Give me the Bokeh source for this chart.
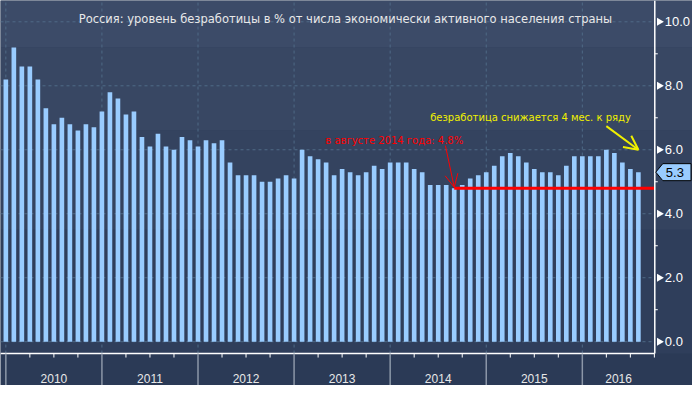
import math
from bokeh.plotting import figure
from bokeh.models import Range1d, Label, Arrow, OpenHead
from bokeh.core.properties import value
from bokeh.embed import file_html
from bokeh.resources import INLINE

# Monthly unemployment, Dec 2009 .. Jul 2016 (bars plotted at month end; 0 = Dec 2009)
values = [8.2, 9.2, 8.6, 8.6, 8.2, 7.3, 6.8, 7.0, 6.8, 6.6, 6.8, 6.7,
          7.2, 7.8, 7.6, 7.1, 7.2, 6.4, 6.1, 6.5, 6.1, 6.0, 6.4, 6.3,
          6.1, 6.3, 6.2, 6.3, 5.6, 5.2, 5.2, 5.2, 5.0, 5.0, 5.1, 5.2,
          5.1, 6.0, 5.8, 5.7, 5.6, 5.2, 5.4, 5.3, 5.2, 5.3, 5.5, 5.4,
          5.6, 5.6, 5.6, 5.4, 5.3, 4.9, 4.9, 4.9, 4.8, 4.9, 5.1, 5.2,
          5.3, 5.5, 5.8, 5.9, 5.8, 5.6, 5.4, 5.3, 5.3, 5.2, 5.5, 5.8,
          5.8, 5.8, 5.8, 6.0, 5.9, 5.6, 5.4, 5.3]
months = list(range(len(values)))
year_labels = ["2010", "2011", "2012", "2013", "2014", "2015", "2016"]
year_starts = [0, 12, 24, 36, 48, 60, 72]
quarter_ticks = [m for m in range(0, 82, 3) if m % 12 != 0]
y_ticks = [0, 2, 4, 6, 8, 10]
y_minor = [1, 3, 5, 7, 9]
title_text = "Россия: уровень безработицы в % от числа экономически активного населения страны"
note_low = "в августе 2014 года: 4.8%"
note_trend = "безработица снижается 4 мес. к ряду"

# geometry (data units; frame covers the whole canvas)
PXX, PXY = 8.007, 31.99          # pixels per month / per percentage point
X0, XA, X_END = -0.667, 81.05, 85.76
Y0, Y_AX, Y1 = -1.369, -0.37, 10.666


def dx(px):
    return px / PXX


def dy(px):
    return px / PXY


BAR = "#99ccff"
GRID = "#4f6a86"
WHITE = "#ffffff"
TXT = "#e8e8e8"

p = figure(width=692, height=385, x_range=Range1d(X0, X_END), y_range=Range1d(Y0, Y1),
           output_backend="svg", toolbar_location=None, x_axis_location=None,
           y_axis_location=None, min_border=0,
           background_fill_color="#2b3a56", border_fill_color="#2b3a56")
p.outline_line_color = None
p.grid.visible = False

# background bands (stepped gradient) above the x axis
band_bottom = [Y_AX, 3.5, 6.6, 9.2]
band_top = [3.5, 6.6, 9.2, Y1]
band_col = ["#2f3e5b", "#34435f", "#384763", "#3c4b68"]
p.quad(left=X0, right=X_END, bottom=band_bottom, top=band_top,
       fill_color=band_col, line_color=None)

# dashed grid
p.segment(x0=year_starts, y0=Y_AX, x1=year_starts, y1=Y1,
          line_color=GRID, line_dash="3 3", line_width=1)
p.segment(x0=X0, y0=y_ticks, x1=XA, y1=y_ticks,
          line_color=GRID, line_dash="3 3", line_width=1)

# bars
p.vbar(x=months, top=values, bottom=0, width=0.58, fill_color=BAR, line_color=None)

# low point line
low_val = min(values)
low_idx = values.index(low_val)
p.segment(x0=[low_idx], y0=[low_val], x1=[XA], y1=[low_val], line_color="#ff0000", line_width=3)

# arrows
p.add_layout(Arrow(end=OpenHead(size=13, line_color="#ff0000", line_width=1),
                   x_start=54.9, y_start=6.13, x_end=low_idx, y_end=low_val + 0.03,
                   line_color="#ff0000", line_width=1))
p.add_layout(Arrow(end=OpenHead(size=14, line_color="#f0f000", line_width=2),
                   x_start=75.0, y_start=6.74, x_end=79.0, y_end=6.0,
                   line_color="#f0f000", line_width=2))

# texts
p.add_layout(Label(x=9.1, y=10.09, text=title_text, text_font="DejaVu Sans",
                   text_font_size="11.5px", text_color=TXT, text_baseline="middle"))
p.add_layout(Label(x=39.9, y=6.29, text=note_low, text_font="DejaVu Sans",
                   text_font_size="10px", text_color="#ff0000", text_baseline="middle"))
p.add_layout(Label(x=53.0, y=7.0, text=note_trend, text_font="DejaVu Sans",
                   text_font_size="10px", text_color="#f0f000", text_baseline="middle"))

# axis lines
p.segment(x0=[XA, X0], y0=[Y_AX, Y_AX], x1=[XA, XA], y1=[Y1, Y_AX],
          line_color=WHITE, line_width=1.5)

# right axis: ticks and labels
p.scatter(x=XA + dx(4.5), y=y_ticks, marker="triangle", angle=-math.pi / 2, size=8,
          fill_color=WHITE, line_color=None)
p.segment(x0=XA, y0=y_minor, x1=XA + dx(3), y1=y_minor, line_color=WHITE, line_width=1)
p.text(x=XA + dx(10), y=y_ticks, text=[f"{t:.1f}" for t in y_ticks],
       text_font=value("Liberation Sans"), text_font_size="13px", text_color=WHITE,
       text_align="left", text_baseline="middle")

# bottom axis: year separators, quarter ticks, year labels
p.segment(x0=year_starts, y0=Y_AX, x1=year_starts, y1=Y0,
          line_color="#8c97a8", line_width=1.5)
p.segment(x0=quarter_ticks, y0=Y_AX, x1=quarter_ticks, y1=Y_AX - dy(4),
          line_color=WHITE, line_width=1)
ends = year_starts[1:] + [XA]
p.text(x=[(s + e) / 2 for s, e in zip(year_starts, ends)], y=Y_AX - dy(25),
       text=year_labels, text_font=value("Liberation Sans"), text_font_size="12px",
       text_color=TXT, text_align="center", text_baseline="middle")

# last value marker on the right axis
last = values[-1]
tip, body, right, half = XA + dx(1), XA + dx(8), X_END - dx(1.5), dy(8.5)
p.patch(x=[tip, body, right, right, body], y=[last, last + half, last + half, last - half, last - half],
        fill_color=BAR, line_color="#000000", line_width=1)
p.text(x=[body + dx(3)], y=[last], text=[f"{last:.1f}"], text_font=value("Liberation Sans"),
       text_font_size="13px", text_color="#000000", text_align="left", text_baseline="middle")

open("out.html", "w").write(file_html(p, INLINE))
